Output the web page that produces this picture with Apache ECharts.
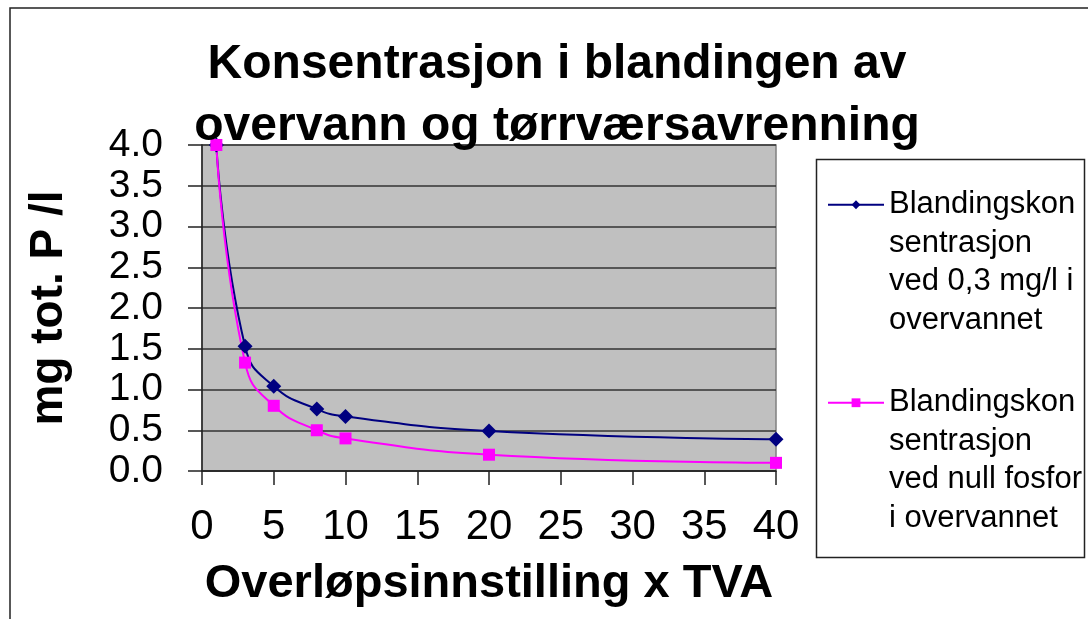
<!DOCTYPE html>
<html>
<head>
<meta charset="utf-8">
<script src="https://cdn.jsdelivr.net/npm/echarts@6/dist/echarts.min.js"></script>
<style>
  html, body { margin: 0; padding: 0; background: #fff; }
  #chart { width: 1088px; height: 619px; }
</style>
</head>
<body>
<div id="chart"></div>
<script>
// overløpsinnstilling (x TVA)
const overlop = [1, 3, 5, 8, 10, 20, 40];
// mg tot. P / l
const medOvervann = [4.0, 1.53, 1.04, 0.76, 0.67, 0.49, 0.39];
const utenFosfor = [4.0, 1.33, 0.80, 0.50, 0.40, 0.20, 0.10];

const navnBla = "Blandingskonsentrasjon ved 0,3 mg/l i overvannet";
const navnRosa = "Blandingskonsentrasjon ved null fosfor i overvannet";
// three empty lines first so the icon lines up with the first text line
const legendTekst = {};
legendTekst[navnBla] = "\n\n\nBlandingskon\nsentrasjon\nved 0,3 mg/l i\novervannet";
legendTekst[navnRosa] = "\n\n\nBlandingskon\nsentrasjon\nved null fosfor\ni overvannet";

const font = "'Liberation Sans', Arial, sans-serif";

const chart = echarts.init(document.getElementById("chart"));

const option = {
  animation: false,
  backgroundColor: "#fff",
  textStyle: { fontFamily: font },
  title: {
    text: "Konsentrasjon i blandingen av\novervann og tørrværsavrenning",
    left: 557,
    top: 34,
    padding: 0,
    textAlign: "center",
    textStyle: {
      fontFamily: font,
      fontSize: 48,
      fontWeight: "bold",
      color: "#000",
      lineHeight: 62,
    },
  },
  graphic: [
    {
      type: "rect",
      shape: { x: 10, y: 8, width: 1100, height: 700 },
      style: { fill: null, stroke: "#222", lineWidth: 1.5 },
      silent: true,
    },
    {
      type: "rect",
      shape: { x: 816.5, y: 159.5, width: 268, height: 398 },
      style: { fill: "#fff", stroke: "#222", lineWidth: 1.5 },
      silent: true,
      z: -1,
    },
  ],
  legend: {
    orient: "vertical",
    left: 827,
    top: 70,
    padding: 0,
    itemWidth: 56,
    itemHeight: 11,
    itemGap: -71.5,
    data: [navnBla, navnRosa],
    formatter: function (name) {
      return legendTekst[name];
    },
    textStyle: {
      fontFamily: font,
      fontSize: 31,
      lineHeight: 38.5,
      color: "#000",
    },
  },
  grid: {
    left: 202,
    top: 145,
    right: 312,
    bottom: 148,
    show: true,
    backgroundColor: "#c0c0c0",
    borderColor: "#808080",
    borderWidth: 1.5,
  },
  xAxis: {
    type: "value",
    min: 0,
    max: 40,
    interval: 5,
    name: "Overløpsinnstilling x TVA",
    nameLocation: "middle",
    nameGap: 90,
    nameTextStyle: {
      fontFamily: font,
      fontSize: 47,
      fontWeight: "bold",
      color: "#000",
    },
    axisLine: { lineStyle: { color: "#222", width: 1.5 } },
    axisTick: { length: 14, lineStyle: { color: "#222", width: 1.5 } },
    axisLabel: {
      margin: 35,
      showMinLabel: true,
      showMaxLabel: true,
      hideOverlap: false,
      fontFamily: font,
      fontSize: 42,
      color: "#000",
    },
    splitLine: { show: false },
  },
  yAxis: {
    type: "value",
    min: 0,
    max: 4,
    interval: 0.5,
    name: "mg tot. P /l",
    nameLocation: "middle",
    nameGap: 130,
    nameTextStyle: {
      fontFamily: font,
      fontSize: 46,
      fontWeight: "bold",
      color: "#000",
    },
    axisLine: { show: true, lineStyle: { color: "#222", width: 1.5 } },
    axisTick: { show: true, length: 14, lineStyle: { color: "#222", width: 1.5 } },
    axisLabel: {
      margin: 39,
      showMinLabel: true,
      showMaxLabel: true,
      hideOverlap: false,
      fontFamily: font,
      fontSize: 39,
      lineHeight: 34,
      color: "#000",
      formatter: function (v) {
        return v.toFixed(1);
      },
    },
    splitLine: { show: true, lineStyle: { color: "#333", width: 1.5 } },
  },
  series: [
    {
      name: navnBla,
      type: "line",
      smooth: true,
      symbol: "diamond",
      symbolSize: 15,
      color: "#000080",
      lineStyle: { width: 2, color: "#000080" },
      itemStyle: { color: "#000080" },
      data: overlop.map((x, i) => [x, medOvervann[i]]),
    },
    {
      name: navnRosa,
      type: "line",
      smooth: true,
      symbol: "rect",
      symbolSize: 12,
      color: "#ff00ff",
      lineStyle: { width: 2, color: "#ff00ff" },
      itemStyle: { color: "#ff00ff" },
      data: overlop.map((x, i) => [x, utenFosfor[i]]),
    },
  ],
};

chart.setOption(option);
</script>
</body>
</html>
